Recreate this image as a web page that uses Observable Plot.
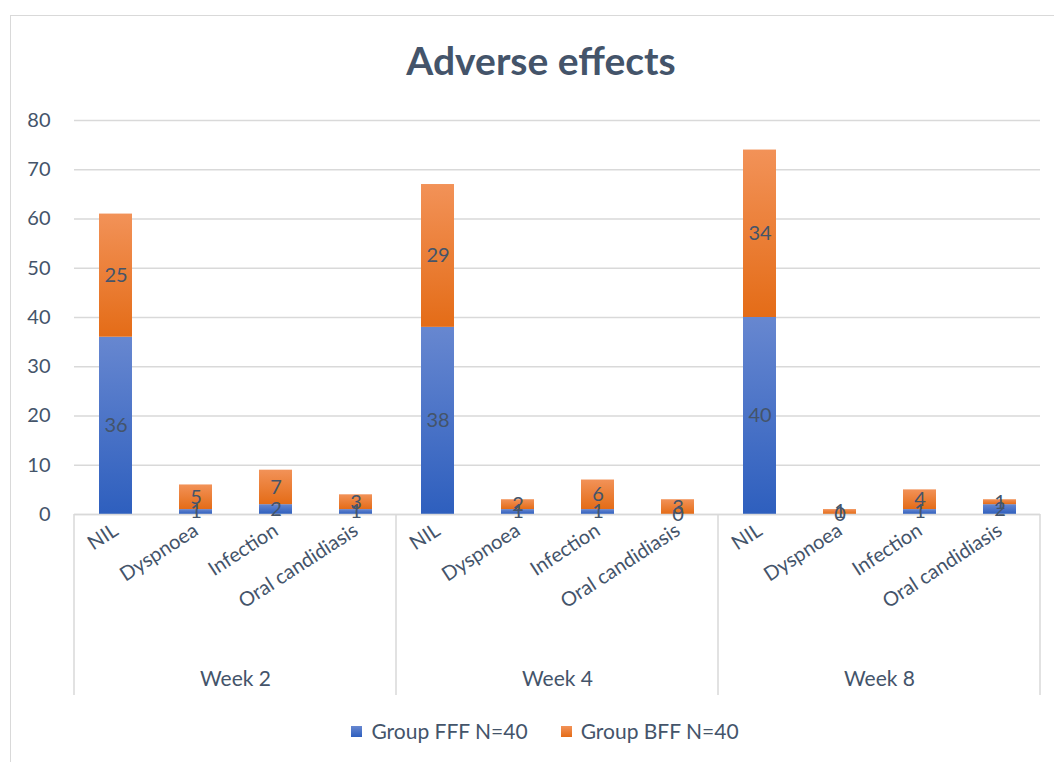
<!DOCTYPE html>
<html>
<head>
<meta charset="utf-8">
<script src="https://cdn.jsdelivr.net/npm/d3@7"></script>
<script src="https://cdn.jsdelivr.net/npm/@observablehq/plot@0.6"></script>
<style>
  html, body { margin: 0; padding: 0; width: 1054px; height: 762px; overflow: hidden; background: #fff; font-family: Lato, "Open Sans", sans-serif; }
  #frame { position: absolute; left: 10px; top: 15px; width: 1100px; height: 800px; border: 1.5px solid #d9d9d9; box-sizing: border-box; }
  #title { position: absolute; left: 0; top: 36px; width: 1082px; text-align: center; font-size: 39px; font-weight: bold; color: #44546a; line-height: 48px; }
  #chart { position: absolute; left: 0; top: 100px; }
  #legend { position: absolute; left: 0; top: 718px; width: 1090px; display: flex; justify-content: center; gap: 33px; font-size: 21px; color: #44546a; line-height: 26px; }
  .item { display: flex; align-items: center; gap: 9px; }
  .sw { width: 11px; height: 11px; display: inline-block; }
</style>
</head>
<body>
<div id="frame"></div>
<div id="title">Adverse effects</div>
<div id="chart"></div>
<div id="legend"></div>
<script>
const weeks = ["Week 2", "Week 4", "Week 8"];
const categories = ["NIL", "Dyspnoea", "Infection", "Oral candidiasis"];
const groups = ["Group FFF N=40", "Group BFF N=40"];
// values per week, in category order
const fffValues = [[36, 1, 2, 1], [38, 1, 1, 0], [40, 0, 1, 2]];
const bffValues = [[25, 5, 7, 3], [29, 2, 6, 3], [34, 1, 4, 1]];
const yTicks = [0, 10, 20, 30, 40, 50, 60, 70, 80];

const data = [];
weeks.forEach((w, i) => {
  categories.forEach((c, j) => {
    data.push({week: w, category: c, group: groups[0], value: fffValues[i][j]});
    data.push({week: w, category: c, group: groups[1], value: bffValues[i][j]});
  });
});

const textColor = "#44546a";
const gridColor = "#d9d9d9";
const fs = 20;

const chart = Plot.plot({
  width: 1054,
  height: 600,
  marginTop: 20,
  marginBottom: 186,
  marginLeft: 74,
  marginRight: 14,
  style: {fontFamily: "Lato, 'Open Sans', sans-serif", fontSize: fs + "px", color: textColor, background: "transparent", overflow: "visible"},
  fx: {domain: weeks, padding: 0, label: null},
  x: {domain: categories, paddingInner: 0.59, paddingOuter: 0.295, label: null},
  y: {domain: [0, 80], label: null},
  color: {domain: groups, range: ["url(#gradFFF)", "url(#gradBFF)"]},
  marks: [
    Plot.gridY(yTicks, {stroke: gridColor, strokeOpacity: 1, strokeWidth: 1.3}),
    Plot.axisY(yTicks, {tickSize: 0, tickPadding: 24, label: null, fontSize: fs, fill: textColor}),
    Plot.barY(data, {fx: "week", x: "category", y: "value", z: "group", fill: "group"}),
    Plot.ruleY([0], {stroke: gridColor, strokeWidth: 1.5}),
    Plot.text(data, Plot.stackY({fx: "week", x: "category", y: "value", z: "group", text: "value", fill: textColor, fontSize: fs})),
    Plot.axisX({tickRotate: -33, tickSize: 0, tickPadding: 14, label: null, fontSize: fs, fill: textColor}),
    Plot.axisFx({anchor: "bottom", tickSize: 0, tickPadding: 157, label: null, fontSize: 21, fill: textColor})
  ]
});

// gradient definitions
const svg = d3.select(chart);
const defs = svg.insert("defs", ":first-child");
function grad(id, top, bottom) {
  const g = defs.append("linearGradient").attr("id", id).attr("x1", 0).attr("y1", 0).attr("x2", 0).attr("y2", 1);
  g.append("stop").attr("offset", "0%").attr("stop-color", top);
  g.append("stop").attr("offset", "100%").attr("stop-color", bottom);
}
grad("gradFFF", "#6787d0", "#2e5fbe");
grad("gradBFF", "#f29258", "#e46c17");

// group separators below the axis, from the fx scale
const fx = chart.scale("fx");
const yScale = chart.scale("y");
const y0 = yScale.apply(0);
const [r0, r1] = fx.range;
const n = fx.domain.length;
for (let i = 0; i <= n; i++) {
  const xPos = r0 + i * (r1 - r0) / n;
  svg.append("line").attr("x1", xPos).attr("x2", xPos).attr("y1", y0).attr("y2", y0 + 181)
    .attr("stroke", gridColor).attr("stroke-width", 1.5);
}

document.getElementById("chart").appendChild(chart);

// legend
const legend = document.getElementById("legend");
const swatchBg = ["linear-gradient(#6787d0, #2e5fbe)", "linear-gradient(#f29258, #e46c17)"];
groups.forEach((g, i) => {
  const item = document.createElement("div");
  item.className = "item";
  const sw = document.createElement("span");
  sw.className = "sw";
  sw.style.background = swatchBg[i];
  const t = document.createElement("span");
  t.textContent = g;
  item.appendChild(sw);
  item.appendChild(t);
  legend.appendChild(item);
});
</script>
</body>
</html>
